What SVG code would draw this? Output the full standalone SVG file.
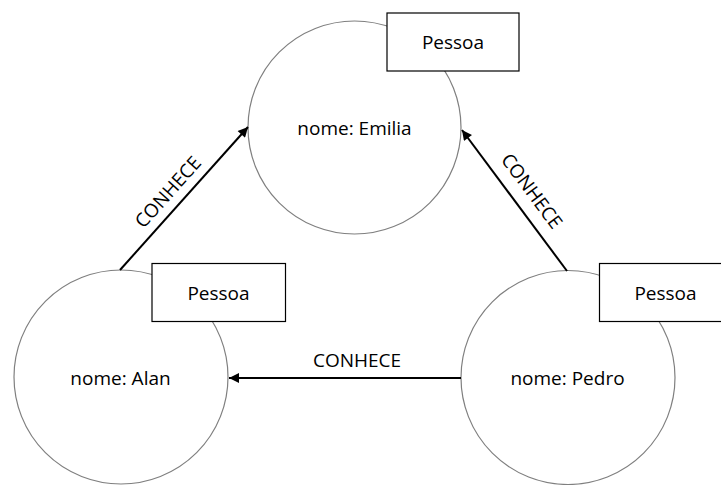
<svg xmlns="http://www.w3.org/2000/svg" width="721" height="485" viewBox="0 0 721 485">
<style>
  .circ { fill: #ffffff; stroke: #7f7f7f; stroke-width: 1.2; }
  .box { fill: #ffffff; stroke: #000000; stroke-width: 1.2; }
  .t { font-family: "Open Sans", "Liberation Sans", sans-serif; font-size: 19px; fill: #000000; text-anchor: middle; }
  .edge { stroke: #000000; stroke-width: 2; fill: none; marker-end: url(#arrow); }
</style>
<defs>
  <marker id="arrow" viewBox="0 0 10 10" refX="10" refY="5" markerWidth="6" markerHeight="5" markerUnits="strokeWidth" orient="auto">
    <path d="M0,0 L10,5 L0,10 Z" fill="#000000"/>
  </marker>
</defs>
<rect width="721" height="485" fill="#ffffff"/>
<g id="emilia">
  <circle class="circ" cx="354.5" cy="127.5" r="106.5"/>
  <text class="t" x="354.5" y="135">nome: Emilia</text>
  <rect class="box" x="387" y="13" width="132" height="58"/>
  <text class="t" x="453" y="49">Pessoa</text>
</g>
<g id="alan">
  <circle class="circ" cx="121" cy="377" r="107"/>
  <text class="t" x="120.5" y="385">nome: Alan</text>
  <rect class="box" x="152" y="263.5" width="133.5" height="58"/>
  <text class="t" x="218.5" y="299.5">Pessoa</text>
</g>
<g id="pedro">
  <circle class="circ" cx="568" cy="377.5" r="107"/>
  <text class="t" x="567.5" y="385">nome: Pedro</text>
  <rect class="box" x="599.5" y="263.5" width="132" height="58"/>
  <text class="t" x="665.5" y="299.5">Pessoa</text>
</g>
<g id="connectors">
  <line class="edge" x1="120" y1="270" x2="248" y2="127"/>
  <line class="edge" x1="567" y1="271" x2="462" y2="130"/>
  <line class="edge" x1="461" y1="378" x2="229" y2="378"/>
  <text class="t" transform="translate(173,196.5) rotate(-48.2)">CONHECE</text>
  <text class="t" transform="translate(526.5,195) rotate(53.3)">CONHECE</text>
  <text class="t" x="357" y="366.5">CONHECE</text>
</g>
</svg>
